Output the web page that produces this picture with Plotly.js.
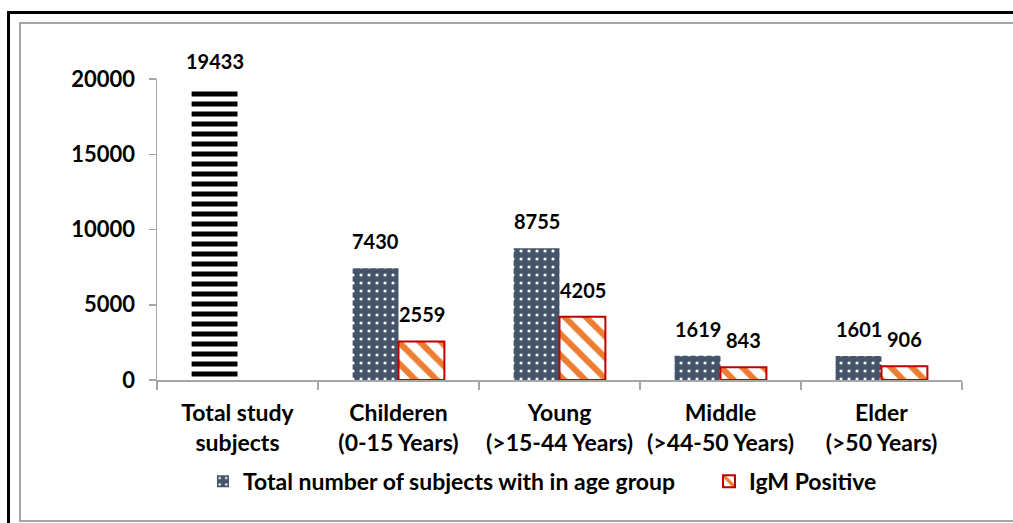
<!DOCTYPE html>
<html>
<head>
<meta charset="utf-8">
<script src="https://cdn.plot.ly/plotly-3.0.1.min.js"></script>
<style>
  html, body { margin: 0; padding: 0; background: #ffffff; }
  #wrap { position: relative; width: 1013px; height: 523px; overflow: hidden; }
  #chart { position: absolute; left: 0; top: 0; width: 1013px; height: 523px; }
  .frame-outer { position: absolute; left: 7px; top: 11px; width: 1100px; height: 600px;
    border-left: 3px solid #000; border-top: 3px solid #000; pointer-events: none; }
  .frame-inner { position: absolute; left: 19px; top: 22px; width: 1100px; height: 496px;
    border-left: 2px solid #A6A6A6; border-top: 2px solid #A6A6A6; border-bottom: 2px solid #A6A6A6; pointer-events: none; }
</style>
</head>
<body>
<div id="wrap">
  <div id="chart"></div>
  <div class="frame-outer"></div>
  <div class="frame-inner"></div>
</div>
<script>
// ---- data ----
var categories = [
  "Total study<br>subjects",
  "Childeren<br>(0-15 Years)",
  "Young<br>(>15-44 Years)",
  "Middle<br>(>44-50 Years)",
  "Elder<br>(>50 Years)"
];
var totalCategory = [categories[0]];
var totalValue = [19433];
var groupCategories = categories.slice(1);
var subjectsValues = [7430, 8755, 1619, 1601];
var igmValues = [2559, 4205, 843, 906];
var seriesNames = ["Total number of subjects with in age group", "IgM Positive"];
var yTickValues = [0, 5000, 10000, 15000, 20000];

var FONT = "Lato, 'Open Sans', 'DejaVu Sans', sans-serif";

var traces = [
  {
    type: "bar", x: totalCategory, y: totalValue, offsetgroup: "a", showlegend: false,
    name: "Total study subjects", hoverinfo: "x+y",
    marker: { color: "#ffffff", line: { width: 0 },
      pattern: { shape: "-", fillmode: "replace", bgcolor: "#ffffff", fgcolor: "#000000", size: 10, solidity: 0.5 } }
  },
  {
    type: "bar", x: groupCategories, y: subjectsValues, offsetgroup: "a", name: seriesNames[0],
    legend: "legend",
    marker: { color: "#44546A", line: { width: 0 },
      pattern: { shape: ".", fillmode: "replace", bgcolor: "#44546A", fgcolor: "#ffffff", size: 8, solidity: 0.12 } }
  },
  {
    type: "bar", x: groupCategories, y: igmValues, offsetgroup: "b", name: seriesNames[1],
    legend: "legend2",
    marker: { color: "#ffffff", line: { width: 2, color: "#C00000" },
      pattern: { shape: "\\", fillmode: "replace", bgcolor: "#ffffff", fgcolor: "#ED7D31", size: 15, solidity: 0.4 } }
  }
];

var annotations = [];
function addLabels(xs, ys, shift) {
  for (var i = 0; i < xs.length; i++) {
    annotations.push({
      x: xs[i], y: ys[i], xref: "x", yref: "y", text: String(ys[i]),
      showarrow: false, xanchor: "center", yanchor: "bottom", xshift: shift, yshift: 13,
      font: { family: FONT, size: 20, color: "#000000", weight: "bold" }
    });
  }
}
addLabels(totalCategory, totalValue, -23);
addLabels(groupCategories, subjectsValues, -23);
addLabels(groupCategories, igmValues, 23);

var legendFont = { family: FONT, size: 23, color: "#000000", weight: "bold" };

var layout = {
  width: 1013, height: 523,
  margin: { l: 157, r: 51, t: 79, b: 143, pad: 0 },
  paper_bgcolor: "rgba(0,0,0,0)", plot_bgcolor: "rgba(0,0,0,0)",
  barmode: "group", bargap: 0.43, bargroupgap: 0,
  font: { family: FONT, size: 22, color: "#000000", weight: "bold" },
  xaxis: {
    type: "category", categoryorder: "array", categoryarray: categories,
    showline: true, linecolor: "#A6A6A6", linewidth: 1.5,
    ticks: "outside", tickson: "boundaries", ticklen: 8, tickcolor: "#A6A6A6", tickwidth: 1.5,
    showgrid: false, zeroline: false, ticklabelstandoff: 12, tickangle: 0,
    tickfont: { family: FONT, size: 23, color: "#000000", weight: "bold" }
  },
  yaxis: {
    range: [0, 20000], tickvals: yTickValues, ticktext: yTickValues.map(String),
    showline: true, linecolor: "#A6A6A6", linewidth: 1.5,
    ticks: "outside", ticklen: 7, tickcolor: "#A6A6A6", tickwidth: 1.5,
    showgrid: false, zeroline: false, ticklabelstandoff: 9,
    tickfont: { family: FONT, size: 22, color: "#000000", weight: "bold" }
  },
  showlegend: true,
  legend: {
    orientation: "h", x: 0.0571, xanchor: "left", y: -0.265, yanchor: "top",
    font: legendFont, bgcolor: "rgba(0,0,0,0)"
  },
  legend2: {
    orientation: "h", x: 0.6857, xanchor: "left", y: -0.265, yanchor: "top",
    font: legendFont, bgcolor: "rgba(0,0,0,0)"
  },
  annotations: annotations
};

Plotly.newPlot("chart", traces, layout, { displayModeBar: false, staticPlot: true });
</script>
</body>
</html>
